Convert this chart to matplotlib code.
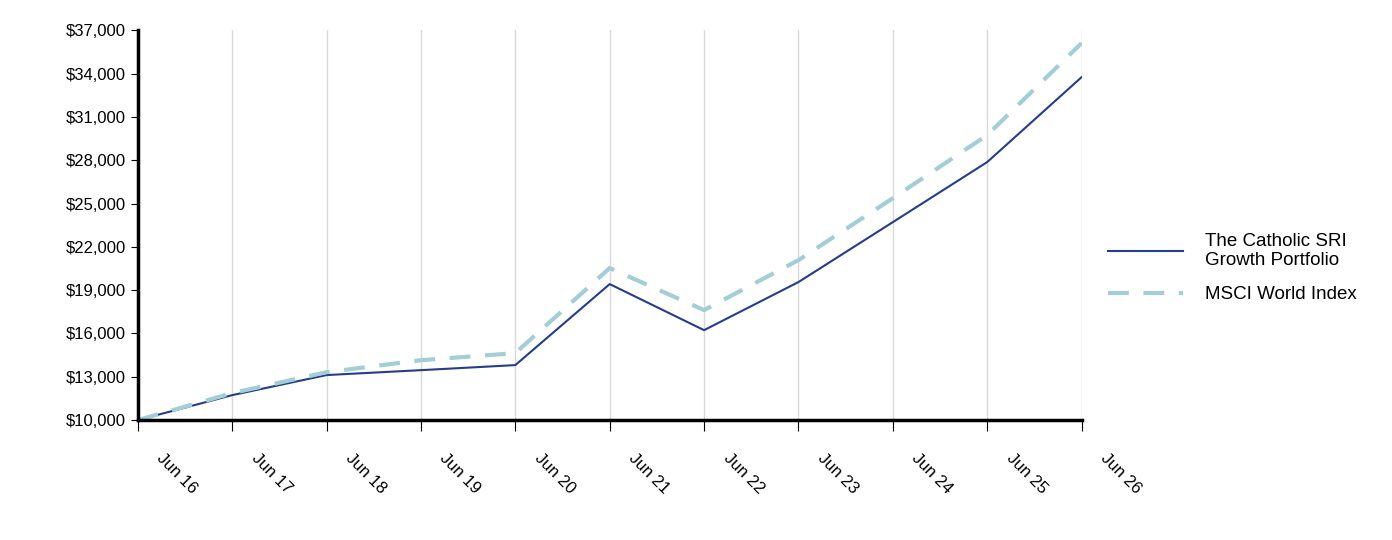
import matplotlib
matplotlib.use("Agg")
import matplotlib.pyplot as plt
import matplotlib.transforms as mtransforms

plt.rcParams['font.family'] = ['Liberation Sans', 'DejaVu Sans']

labels = ["Jun 16","Jun 17","Jun 18","Jun 19","Jun 20","Jun 21","Jun 22","Jun 23","Jun 24","Jun 25","Jun 26"]
portfolio = [10000,11730,13120,13460,13810,19420,16230,19560,23710,27870,33750]
msci = [10000,11870,13320,14150,14640,20530,17620,21080,25370,29740,36110]
yticks = list(range(10000, 37001, 3000))

fig = plt.figure(figsize=(13.92, 5.40), dpi=100)
ax = fig.add_axes([0.099, 0.222, 0.678, 0.722])
x = list(range(len(labels)))
ax.plot(x, portfolio, color='#263c8c', lw=1.5, label='The Catholic SRI\nGrowth Portfolio')
ax.plot(x, msci, color='#a3ced5', lw=3, ls=(0, (5, 3.5)), label='MSCI World Index')
ax.set_xlim(0, len(labels)-1)
ax.set_ylim(10000, 37000)
ax.set_yticks(yticks)
ax.set_yticklabels([f"${v:,}" for v in yticks], fontsize=12)
ax.set_xticks(x)
ax.set_xticklabels(labels, rotation=-45, ha='left', rotation_mode='anchor', fontsize=12)
ax.tick_params(axis='x', length=8, pad=14)
ax.tick_params(axis='y', length=5)
offset = mtransforms.ScaledTranslation(27/100, 0, fig.dpi_scale_trans)
for lbl in ax.get_xticklabels():
    lbl.set_transform(lbl.get_transform() + offset)
ax.grid(axis='x', color='#d9d9d9', lw=1)
ax.set_axisbelow(True)
for s in ['top', 'right']:
    ax.spines[s].set_visible(False)
ax.spines['left'].set_linewidth(2.5)
ax.spines['bottom'].set_linewidth(2.5)
ax.legend(loc='center left', bbox_to_anchor=(1.01, 0.39), frameon=False, fontsize=13.5,
          handlelength=4.0, handletextpad=1.2, labelspacing=0.9)
fig.savefig('out.png')
